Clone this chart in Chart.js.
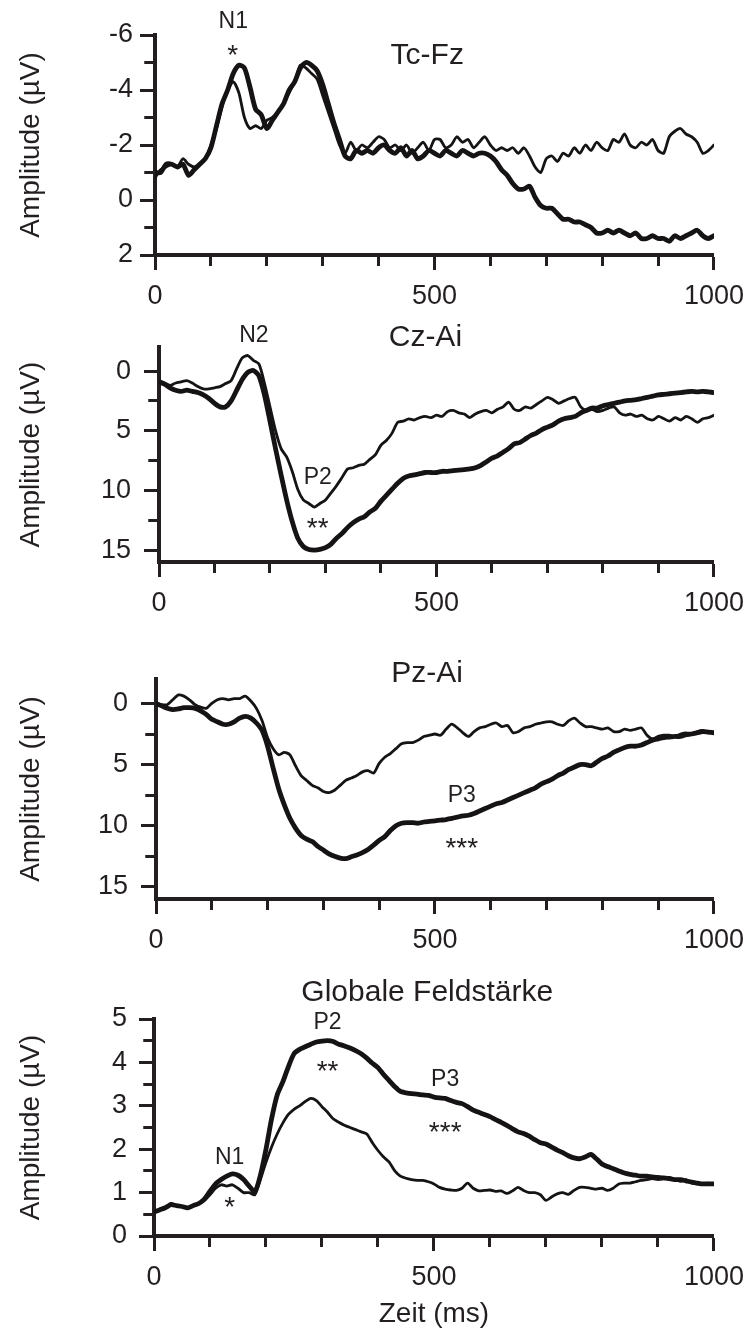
<!DOCTYPE html>
<html lang="de">
<head>
<meta charset="utf-8">
<title>Amplitude (µV)</title>
<script src="https://cdn.jsdelivr.net/npm/chart.js@4.4.1/dist/chart.umd.min.js"></script>
<style>
  html, body { margin: 0; padding: 0; background: #fff; }
  #seite { position: relative; width: 754px; height: 1331px; overflow: hidden; }
  .band { position: absolute; left: 0; width: 754px; }
</style>
</head>
<body>
<div id="seite">
  <div class="band" style="top:0px;height:318px"><canvas id="tcfz"></canvas></div>
  <div class="band" style="top:318px;height:307px"><canvas id="czai"></canvas></div>
  <div class="band" style="top:625px;height:335px"><canvas id="pzai"></canvas></div>
  <div class="band" style="top:960px;height:371px"><canvas id="gfp"></canvas></div>
</div>
<script>
// Zeitachse (ms), alle 10 ms ein Wert
const zeit = [
  0, 10, 20, 30, 40, 50, 60, 70, 80, 90,
  100, 110, 120, 130, 140, 150, 160, 170, 180, 190,
  200, 210, 220, 230, 240, 250, 260, 270, 280, 290,
  300, 310, 320, 330, 340, 350, 360, 370, 380, 390,
  400, 410, 420, 430, 440, 450, 460, 470, 480, 490,
  500, 510, 520, 530, 540, 550, 560, 570, 580, 590,
  600, 610, 620, 630, 640, 650, 660, 670, 680, 690,
  700, 710, 720, 730, 740, 750, 760, 770, 780, 790,
  800, 810, 820, 830, 840, 850, 860, 870, 880, 890,
  900, 910, 920, 930, 940, 950, 960, 970, 980, 990,
  1000
];

// Tc-Fz (µV)
const tcFzDuenn = [
  -0.8, -1.1, -1.2, -1.3, -1.2, -1.5, -1.3, -1.2, -1.3, -1.5,
  -2.0, -2.6, -3.4, -4.0, -4.3, -3.9, -3.0, -2.6, -2.7, -2.6,
  -2.9, -3.0, -3.2, -3.5, -3.9, -4.3, -4.9, -4.8, -4.6, -4.4,
  -3.8, -3.2, -2.6, -2.0, -1.7, -2.1, -1.8, -2.0, -1.9, -2.1,
  -2.3, -2.2, -1.9, -2.0, -1.8, -2.0, -1.7, -1.9, -2.1, -1.8,
  -2.2, -2.2, -1.9, -2.0, -2.3, -2.1, -2.2, -1.9, -2.1, -2.3,
  -2.0, -1.8, -1.9, -1.8, -1.9, -1.7, -1.9, -1.6, -1.2, -1.0,
  -1.5, -1.6, -1.4, -1.7, -1.6, -1.9, -1.7, -2.0, -1.8, -2.1,
  -1.9, -1.8, -2.2, -2.1, -2.4, -2.0, -1.9, -2.1, -2.0, -2.2,
  -1.8, -1.7, -2.3, -2.5, -2.6, -2.4, -2.3, -2.1, -1.7, -1.8,
  -2.0
];
const tcFzDick = [
  -1.0, -1.0, -1.3, -1.3, -1.2, -1.3, -0.9, -1.1, -1.3, -1.5,
  -1.9, -2.7, -3.5, -4.0, -4.6, -4.9, -4.8, -4.1, -3.3, -3.1,
  -2.6, -2.9, -3.2, -3.5, -4.0, -4.3, -4.8, -5.0, -4.9, -4.7,
  -4.2, -3.5, -2.8, -2.2, -1.6, -1.5, -1.8, -1.7, -1.8, -1.7,
  -1.9, -2.0, -1.8, -1.7, -1.9, -1.6, -1.8, -1.5, -1.6, -1.8,
  -1.7, -1.6, -1.8, -1.7, -1.6, -1.8, -1.7, -1.6, -1.7, -1.7,
  -1.6, -1.4, -1.1, -0.9, -0.6, -0.4, -0.4, -0.5, -0.1, 0.2,
  0.3, 0.3, 0.5, 0.7, 0.7, 0.8, 0.8, 0.9, 1.0, 1.2,
  1.2, 1.1, 1.2, 1.1, 1.2, 1.3, 1.2, 1.4, 1.4, 1.3,
  1.4, 1.4, 1.5, 1.3, 1.4, 1.3, 1.2, 1.1, 1.3, 1.4,
  1.3
];

// Cz-Ai (µV)
const czAiDuenn = [
  0.8, 1.0, 1.2, 1.0, 0.9, 0.8, 1.0, 1.3, 1.5, 1.5,
  1.4, 1.3, 1.05, 0.8, -0.2, -1.1, -1.3, -0.9, -0.6, 1.0,
  3.0, 5.0, 6.5, 7.2, 8.4, 9.9, 10.8, 11.1, 11.4, 11.1,
  10.8, 10.2, 9.6, 8.9, 8.2, 8.1, 7.9, 7.8, 7.4, 7.0,
  6.2, 5.8, 5.2, 4.3, 4.2, 4.0, 4.1, 3.9, 3.8, 3.9,
  3.7, 3.8, 3.4, 3.3, 3.5, 3.6, 3.9, 3.6, 3.4, 3.3,
  3.5, 3.2, 3.0, 2.6, 3.2, 3.3, 3.0, 3.1, 2.8, 2.5,
  2.2, 2.4, 2.7, 2.5, 2.3, 2.2, 3.0, 3.3, 3.2, 3.4,
  3.3, 3.1, 3.0, 3.5, 3.7, 3.6, 3.8, 3.7, 4.0, 4.1,
  3.8, 4.0, 4.2, 3.9, 4.1, 3.8, 4.0, 4.3, 4.0, 3.9,
  3.7
];
const czAiDick = [
  0.9, 1.1, 1.4, 1.6, 1.7, 1.6, 1.7, 1.8, 2.0, 2.3,
  2.7, 3.0, 3.0, 2.5, 1.6, 0.7, 0.1, -0.05, 0.4, 2.0,
  4.2, 6.5, 8.7, 10.8, 12.6, 14.0, 14.7, 14.95, 15.0, 14.95,
  14.8, 14.5, 14.0, 13.6, 13.1, 12.7, 12.4, 12.2, 11.8, 11.5,
  10.9, 10.4, 9.9, 9.4, 9.0, 8.8, 8.7, 8.6, 8.5, 8.5,
  8.5, 8.4, 8.4, 8.35, 8.3, 8.25, 8.2, 8.1, 7.9, 7.6,
  7.3, 7.1, 6.8, 6.5, 6.1, 6.0, 5.7, 5.4, 5.2, 4.9,
  4.7, 4.5, 4.2, 4.0, 3.9, 3.8, 3.5, 3.3, 3.1, 3.1,
  2.9, 2.8, 2.7, 2.6, 2.5, 2.45, 2.4, 2.3, 2.2, 2.1,
  2.0, 1.95, 1.9, 1.85, 1.8, 1.75, 1.7, 1.75, 1.7, 1.75,
  1.8
];

// Pz-Ai (µV)
const pzAiDuenn = [
  0.0, 0.1, 0.1, -0.3, -0.7, -0.6, -0.3, 0.1, 0.3, 0.4,
  0.0, -0.3, -0.4, -0.3, -0.4, -0.4, -0.6, -0.2, 0.4, 1.4,
  2.8, 3.7, 4.2, 4.0, 4.2, 5.1, 5.9, 6.3, 6.7, 6.9,
  7.2, 7.3, 7.1, 6.7, 6.3, 6.1, 5.9, 5.6, 5.5, 5.7,
  4.9, 4.4, 4.1, 3.7, 3.3, 3.2, 3.2, 3.0, 2.7, 2.6,
  2.5, 2.6, 2.1, 1.7, 2.0, 2.4, 2.7, 2.3, 2.0, 1.9,
  1.7, 1.6, 1.9, 1.8, 2.4, 2.3, 2.0, 1.9, 1.7, 1.6,
  1.5, 1.5, 1.7, 1.8, 1.4, 1.2, 1.6, 1.9, 1.9, 2.0,
  2.1, 2.0, 2.3, 2.3, 2.1, 2.2, 2.1, 2.0, 2.6, 2.9,
  2.7, 2.6, 2.6, 2.7, 2.5, 2.4, 2.5, 2.3, 2.2, 2.4,
  2.4
];
const pzAiDick = [
  0.0, 0.2, 0.4, 0.5, 0.45, 0.35, 0.35, 0.4, 0.6, 0.9,
  1.3, 1.5, 1.7, 1.7, 1.5, 1.2, 1.05, 1.2, 1.6, 2.2,
  3.5, 5.3, 7.0, 8.3, 9.4, 10.2, 10.8, 11.1, 11.3, 11.7,
  12.0, 12.3, 12.5, 12.65, 12.7, 12.55, 12.4, 12.2, 11.95, 11.6,
  11.2, 10.9, 10.4, 10.0, 9.8, 9.75, 9.75, 9.8, 9.7, 9.65,
  9.6, 9.55, 9.5, 9.4, 9.3, 9.2, 9.15, 9.0, 8.8, 8.6,
  8.4, 8.2, 8.1, 7.9, 7.7, 7.5, 7.3, 7.1, 6.9, 6.6,
  6.4, 6.2, 5.9, 5.7, 5.4, 5.2, 5.0, 5.0, 5.1, 4.8,
  4.5, 4.3, 4.0, 3.8, 3.6, 3.5, 3.5, 3.4, 3.2, 3.0,
  2.9, 2.8, 2.75, 2.7, 2.7, 2.55, 2.5, 2.4, 2.3, 2.35,
  2.4
];

// Globale Feldstärke (µV)
const gfpDuenn = [
  0.55, 0.6, 0.65, 0.75, 0.7, 0.68, 0.65, 0.7, 0.75, 0.82,
  0.95, 1.1, 1.18, 1.15, 1.18, 1.1, 1.0, 1.0, 0.95, 1.3,
  1.7, 2.05, 2.35, 2.6, 2.8, 2.92, 3.0, 3.1, 3.17, 3.12,
  2.98, 2.85, 2.7, 2.62, 2.55, 2.5, 2.45, 2.4, 2.35, 2.15,
  1.97, 1.82, 1.7, 1.5, 1.38, 1.33, 1.3, 1.28, 1.28, 1.25,
  1.2, 1.12, 1.08, 1.06, 1.05, 1.1, 1.22, 1.1, 1.04, 1.05,
  1.06, 1.03, 1.04, 0.98, 1.04, 1.12, 1.05, 1.0, 1.0, 0.95,
  0.82, 0.9, 0.97, 1.0, 0.96, 1.05, 1.12, 1.12, 1.1, 1.08,
  1.1, 1.05, 1.1, 1.2, 1.22, 1.22, 1.25, 1.28, 1.3, 1.32,
  1.3, 1.32, 1.35, 1.3, 1.26, 1.3, 1.22, 1.2, 1.2, 1.22,
  1.2
];
const gfpDick = [
  0.55, 0.6, 0.65, 0.72, 0.7, 0.68, 0.65, 0.7, 0.75, 0.85,
  1.03, 1.2, 1.3, 1.38, 1.43, 1.4, 1.3, 1.15, 1.02, 1.4,
  2.0, 2.7, 3.25, 3.55, 3.9, 4.2, 4.3, 4.36, 4.42, 4.47,
  4.49, 4.5, 4.48, 4.42, 4.38, 4.33, 4.27, 4.2, 4.1, 3.98,
  3.88, 3.72, 3.58, 3.44, 3.33, 3.3, 3.28, 3.27, 3.25, 3.24,
  3.2, 3.18, 3.17, 3.12, 3.08, 3.05, 2.98, 2.9, 2.85, 2.8,
  2.75, 2.68, 2.62, 2.55, 2.47, 2.4, 2.36, 2.3, 2.22, 2.15,
  2.12, 2.05, 1.98, 1.92, 1.85, 1.8, 1.78, 1.82, 1.88, 1.78,
  1.66, 1.6, 1.55, 1.5, 1.45, 1.42, 1.4, 1.38, 1.38, 1.36,
  1.35, 1.34, 1.32, 1.3, 1.3, 1.27, 1.24, 1.22, 1.2, 1.2,
  1.2
];

const SCHRIFT = '"Liberation Sans", Arial, Helvetica, sans-serif';
const FARBE = '#231f20';
const TEXTGROESSE = { titel: 30, marke: 23, stern: 28 };

Chart.defaults.font.family = SCHRIFT;
Chart.defaults.color = FARBE;

function punkte(werte) {
  return zeit.map((t, i) => ({ x: t, y: werte[i] }));
}

// Beschriftungen (Titel, Komponenten, Signifikanzsterne) in Datenkoordinaten
const beschriftungPlugin = {
  id: 'beschriftung',
  afterDraw(chart, args, opts) {
    const { ctx, scales: { x, y } } = chart;
    ctx.save();
    ctx.fillStyle = FARBE;
    ctx.textAlign = 'center';
    ctx.textBaseline = 'middle';
    for (const [text, t, wert, art] of opts.texte || []) {
      ctx.font = `${TEXTGROESSE[art]}px ${SCHRIFT}`;
      ctx.fillText(text, x.getPixelForValue(t), y.getPixelForValue(wert));
    }
    ctx.restore();
  }
};

function erzeugeDiagramm(p) {
  const hatTick = c => c && c.tick !== undefined;
  return new Chart(document.getElementById(p.id), {
    type: 'line',
    data: {
      datasets: [
        { data: punkte(p.duenn), borderWidth: 2.8 },
        { data: punkte(p.dick), borderWidth: 4.8 }
      ]
    },
    options: {
      responsive: true,
      maintainAspectRatio: false,
      animation: false,
      events: [],
      layout: { padding: { top: p.oben, right: 754 - p.rechts, left: 0, bottom: 0 } },
      elements: {
        point: { radius: 0 },
        line: { tension: 0.25, borderColor: '#151314', borderJoinStyle: 'round', borderCapStyle: 'round', fill: false }
      },
      plugins: {
        legend: { display: false },
        tooltip: { enabled: false },
        beschriftung: { texte: p.texte }
      },
      scales: {
        x: {
          type: 'linear',
          min: 0,
          max: 1000,
          border: { color: FARBE, width: 4 },
          grid: {
            drawOnChartArea: false,
            tickLength: 15,
            tickWidth: 3,
            tickColor: FARBE,
            tickBorderDash: c => (hatTick(c) && c.tick.value % 500 !== 0) ? [9, 100] : []
          },
          ticks: {
            stepSize: 100,
            autoSkip: false,
            maxRotation: 0,
            padding: 10,
            font: { size: 27 },
            callback: v => (v % 500 === 0 ? String(v) : '')
          },
          title: {
            display: !!p.xTitel,
            text: p.xTitel || '',
            font: { size: 28 },
            padding: { top: 0, bottom: 0 }
          },
          afterFit: s => { s.height = p.xHoehe; }
        },
        y: {
          type: 'linear',
          min: p.yMin,
          max: p.yMax,
          reverse: p.umgekehrt,
          border: { color: FARBE, width: 4 },
          grid: {
            drawOnChartArea: false,
            tickLength: 15,
            tickWidth: 3,
            tickColor: FARBE,
            tickBorderDash: c => (hatTick(c) && !p.haupt(c.tick.value)) ? [9, 100] : [],
            tickBorderDashOffset: c => (hatTick(c) && !p.haupt(c.tick.value)) ? 104.75 : 0
          },
          ticks: {
            stepSize: p.schritt,
            includeBounds: false,
            autoSkip: false,
            padding: p.tickAbstand,
            font: { size: 27 },
            callback: v => (p.haupt(v) ? String(v) : '')
          },
          title: {
            display: true,
            text: 'Amplitude (µV)',
            font: { size: 28 },
            padding: { top: 14, bottom: 0 }
          },
          afterFit: s => { s.width = p.links; }
        }
      }
    },
    plugins: [beschriftungPlugin]
  });
}

const panels = [
  {
    id: 'tcfz', links: 155, rechts: 718, oben: 35, xHoehe: 63,
    yMin: -6, yMax: 2, schritt: 1, umgekehrt: true, tickAbstand: 7,
    haupt: v => v % 2 === 0,
    duenn: tcFzDuenn, dick: tcFzDick,
    texte: [
      ['Tc-Fz', 487, -5.24, 'titel'],
      ['N1', 140, -6.5, 'marke'],
      ['*', 139, -5.22, 'stern']
    ]
  },
  {
    id: 'czai', links: 159, rechts: 722, oben: 25, xHoehe: 63,
    yMin: -2, yMax: 16, schritt: 2.5, umgekehrt: true, tickAbstand: 13,
    haupt: v => v % 5 === 0,
    duenn: czAiDuenn, dick: czAiDick,
    texte: [
      ['Cz-Ai', 480, -2.83, 'titel'],
      ['N2', 171, -3.0, 'marke'],
      ['P2', 286, 8.97, 'marke'],
      ['**', 286, 13.24, 'stern']
    ]
  },
  {
    id: 'pzai', links: 156, rechts: 720, oben: 54, xHoehe: 61,
    yMin: -2, yMax: 16, schritt: 2.5, umgekehrt: true, tickAbstand: 13,
    haupt: v => v % 5 === 0,
    duenn: pzAiDuenn, dick: pzAiDick,
    texte: [
      ['Pz-Ai', 486, -2.47, 'titel'],
      ['P3', 548, 7.57, 'marke'],
      ['***', 548, 11.95, 'stern']
    ]
  },
  {
    id: 'gfp', links: 154, rechts: 718, oben: 59, xHoehe: 95, xTitel: 'Zeit (ms)',
    yMin: 0, yMax: 5, schritt: 0.5, umgekehrt: false, tickAbstand: 12,
    haupt: v => Number.isInteger(v),
    duenn: gfpDuenn, dick: gfpDick,
    texte: [
      ['Globale Feldstärke', 488, 5.6, 'titel'],
      ['P2', 310, 4.91, 'marke'],
      ['**', 310, 3.77, 'stern'],
      ['P3', 520, 3.6, 'marke'],
      ['***', 520, 2.36, 'stern'],
      ['N1', 135, 1.8, 'marke'],
      ['*', 135, 0.64, 'stern']
    ]
  }
];

panels.forEach(erzeugeDiagramm);
</script>
</body>
</html>
